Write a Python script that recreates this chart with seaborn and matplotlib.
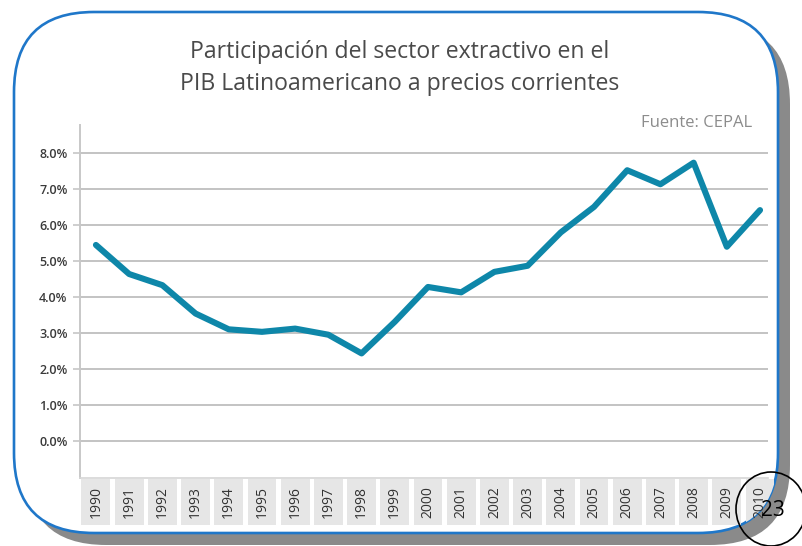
import numpy as np
import pandas as pd
import matplotlib
matplotlib.use("Agg")
import matplotlib.pyplot as plt
import seaborn as sns
from matplotlib.patches import FancyBboxPatch, Ellipse
from matplotlib.ticker import FuncFormatter

years = list(range(1990, 2011))
share = [5.45, 4.64, 4.33, 3.54, 3.10, 3.03, 3.12, 2.95, 2.43, 3.31, 4.28,
         4.13, 4.70, 4.87, 5.80, 6.51, 7.53, 7.14, 7.74, 5.40, 6.42]
yticks = [0, 1, 2, 3, 4, 5, 6, 7, 8]
title_lines = ["Participación del sector extractivo en el",
               "PIB Latinoamericano a precios corrientes"]
source = "Fuente: CEPAL"
page = "23"

df = pd.DataFrame({"year": years, "share": share})

sns.set_theme(style="white")
plt.rcParams["font.family"] = ["Open Sans", "DejaVu Sans"]

W, H = 802, 546
fig = plt.figure(figsize=(W / 100, H / 100), dpi=100)
fig.patch.set_facecolor("white")

def px(x, y):
    return (x / 100, (H - y) / 100)

# shadow (offset right/down)
shadow = FancyBboxPatch(px(26, 545), 7.64, 5.21, boxstyle="round,pad=0,rounding_size=0.8",
                        transform=fig.dpi_scale_trans, facecolor="#8a8a8a", edgecolor="none", zorder=0)
fig.patches.append(shadow)
# panel
panel = FancyBboxPatch(px(14, 533), 7.64, 5.21, boxstyle="round,pad=0,rounding_size=0.8",
                       transform=fig.dpi_scale_trans, facecolor="white", edgecolor="#1f77c9",
                       linewidth=1.9, zorder=1)
fig.patches.append(panel)

ax = fig.add_axes([80 / W, (H - 478) / H, (768 - 80) / W, (478 - 125) / H])
ax.set_zorder(2)
ax.patch.set_alpha(0)

sns.lineplot(data=df, x="year", y="share", ax=ax, color="#0e87a9", linewidth=4.4,
             solid_joinstyle="round", solid_capstyle="round", zorder=3)

ax.set_xlim(1989.52, 2010.24)
ax.set_ylim(-1.04, 8.79)
ax.set_yticks(yticks)
ax.yaxis.set_major_formatter(FuncFormatter(lambda v, p: f"{v:.1f}%"))
ax.set_xticks(years)
ax.set_xticklabels([str(y) for y in years], rotation=90, fontsize=10, color="#333333")
ax.set_xlabel("")
ax.set_ylabel("")
ax.grid(axis="y", color="#c3c3c3", linewidth=1.4)
ax.grid(axis="x", visible=False)
for s in ["top", "right"]:
    ax.spines[s].set_visible(False)
ax.spines["left"].set_color("#c8c8c8")
ax.spines["left"].set_linewidth(1.4)
ax.spines["bottom"].set_color("#d6d6d6")
ax.spines["bottom"].set_linewidth(1.2)
ax.tick_params(axis="y", left=True, length=5, width=1.2, color="#c6c6c6", pad=4,
               labelsize=9, labelcolor="#3a3a3a")
for lab in ax.get_yticklabels():
    lab.set_fontweight("semibold")
ax.tick_params(axis="x", bottom=False, length=0, pad=6)
for lab in ax.get_xticklabels():
    lab.set_bbox(dict(boxstyle="square,pad=0.5", facecolor="#e6e6e6", edgecolor="none"))
    lab.set_clip_path(panel)
    lab.get_bbox_patch().set_clip_path(panel)

fig.text(400 / W, 1 - 52 / H, title_lines[0], ha="center", va="center",
         fontsize=16.6, color="#4a4a4a")
fig.text(400 / W, 1 - 84 / H, title_lines[1], ha="center", va="center",
         fontsize=16.6, color="#4a4a4a")
fig.text(752 / W, 1 - 123 / H, source, ha="right", va="center", fontsize=12, color="#8c8c8c")

circle = Ellipse(px(771, 509), 0.70, 0.74, transform=fig.dpi_scale_trans, facecolor="none",
                 edgecolor="black", linewidth=1.2, zorder=5)
fig.patches.append(circle)
fig.text(773 / W, 1 - 510 / H, page, ha="center", va="center", fontsize=15, color="black", zorder=6)

fig.savefig("out.png", dpi=100)
